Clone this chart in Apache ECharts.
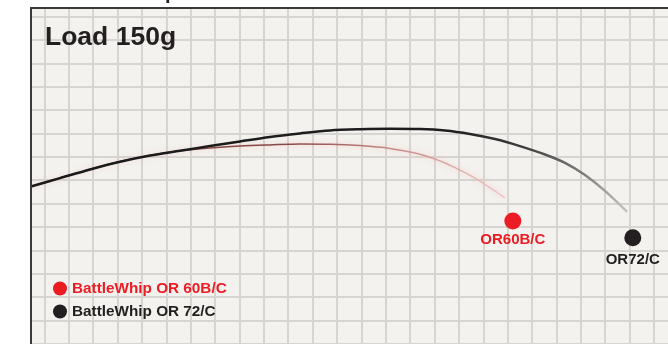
<!DOCTYPE html>
<html>
<head>
<meta charset="utf-8">
<script src="https://cdn.jsdelivr.net/npm/echarts@6/dist/echarts.min.js"></script>
<style>
  html, body { margin: 0; padding: 0; background: #ffffff; }
  #chart { width: 668px; height: 344px; }
</style>
</head>
<body>
<div id="chart"></div>
<script>
// Rod bending profile under a 150 g load (grid units: 10 per square)
const loadLabel = 'Load 150g';

const seriesNames = ['BattleWhip OR 60B/C', 'BattleWhip OR 72/C'];
const tipNames = ['OR60B/C', 'OR72/C'];

// BattleWhip OR 60B/C blank profile
const span60 = [4.5, 16.4, 28.7, 41.0, 53.3, 65.6, 77.9, 90.2, 102.5, 114.8, 127.1, 139.4, 151.7, 162.0, 170.2, 178.4, 186.6, 193.6, 198.9];
const height60 = [67.3, 70.9, 74.6, 78.0, 80.6, 82.6, 83.8, 84.6, 85.1, 85.5, 85.4, 84.8, 83.6, 81.6, 79.1, 75.4, 70.9, 66.2, 62.4];

// BattleWhip OR 72/C blank profile
const span72 = [4.5, 16.4, 28.7, 41.0, 53.3, 65.6, 77.9, 90.2, 102.5, 114.8, 127.1, 139.4, 151.7, 164.0, 174.3, 184.5, 194.8, 205.0, 215.3, 223.5, 231.7, 239.9, 249.0];
const height72 = [67.3, 70.9, 74.6, 77.9, 80.6, 82.6, 84.6, 86.6, 88.5, 90.0, 91.3, 91.8, 92.0, 91.9, 91.3, 89.8, 87.6, 84.6, 81.0, 77.4, 72.2, 65.4, 56.4];

// tip marker positions
const tip60 = [202.1, 52.5];
const tip72 = [251.3, 45.4];

// graph paper extent
const xMin = 0, xMax = 270, xStep = 10;
const yMin = 0, yMax = 150, yStep = 10;

const RED = '#ec1c24';
const BLACK = '#231f20';
const FONT = "'Liberation Sans', Arial, sans-serif";

const zip = (xs, ys) => xs.map((x, i) => [x, ys[i]]);

const chart = echarts.init(document.getElementById('chart'), null, { renderer: 'canvas' });

const axisCommon = {
  type: 'value',
  axisLine: { show: false },
  axisTick: { show: false },
  axisLabel: { show: false },
  splitLine: { show: true, lineStyle: { color: '#d7d5d1', width: 2 } }
};

chart.setOption({
  animation: false,
  backgroundColor: '#ffffff',
  title: {
    text: loadLabel,
    left: 45,
    top: 24,
    padding: 0,
    textStyle: { fontFamily: FONT, fontWeight: 'bold', fontSize: 26.5, color: '#231f20' }
  },
  legend: {
    orient: 'vertical',
    left: 53,
    top: 281,
    padding: 0,
    itemWidth: 14,
    itemHeight: 14,
    itemGap: 8,
    icon: 'circle',
    selectedMode: false,
    textStyle: { fontFamily: FONT, fontWeight: 'bold', fontSize: 15.3 },
    data: [
      { name: seriesNames[0], itemStyle: { color: RED }, textStyle: { color: RED } },
      { name: seriesNames[1], itemStyle: { color: BLACK }, textStyle: { color: BLACK } }
    ]
  },
  grid: {
    left: 20.02,
    top: -6.7,
    width: 24.384 * 27,
    height: 23.36 * 15,
    outerBoundsMode: 'none',
    containLabel: false,
    show: true,
    backgroundColor: '#f3f2ee',
    borderWidth: 0
  },
  xAxis: Object.assign({ min: xMin, max: xMax, interval: xStep }, axisCommon),
  yAxis: Object.assign({ min: yMin, max: yMax, interval: yStep }, axisCommon),
  series: [
    {
      name: seriesNames[0],
      type: 'line',
      data: zip(span60, height60),
      smooth: 0.3,
      showSymbol: false,
      z: 3,
      lineStyle: {
        width: 1.5,
        shadowColor: 'rgba(235, 150, 150, 0.5)',
        shadowBlur: 6,
        color: {
          type: 'linear', x: 0, y: 0, x2: 1, y2: 0,
          colorStops: [
            { offset: 0, color: '#7a3e3c' },
            { offset: 0.55, color: '#8c4a47' },
            { offset: 0.76, color: '#c98a88' },
            { offset: 1, color: '#f0c8c8' }
          ]
        }
      }
    },
    {
      name: seriesNames[1],
      type: 'line',
      data: zip(span72, height72),
      smooth: 0.3,
      showSymbol: false,
      z: 4,
      lineStyle: {
        width: 2.5,
        color: {
          type: 'linear', x: 0, y: 0, x2: 1, y2: 0,
          colorStops: [
            { offset: 0, color: '#1a1a1a' },
            { offset: 0.7, color: '#1e1e1e' },
            { offset: 0.82, color: '#3c3c3c' },
            { offset: 0.92, color: '#7a7a7a' },
            { offset: 1, color: '#c8c8c8' }
          ]
        }
      }
    },
    {
      name: tipNames[0],
      type: 'scatter',
      data: [tip60],
      symbolSize: 17,
      z: 5,
      itemStyle: { color: RED, opacity: 1 },
      label: {
        show: true,
        position: 'bottom',
        distance: 3,
        formatter: tipNames[0],
        fontFamily: FONT, fontWeight: 'bold', fontSize: 15, color: RED
      }
    },
    {
      name: tipNames[1],
      type: 'scatter',
      data: [tip72],
      symbolSize: 17,
      z: 5,
      itemStyle: { color: BLACK, opacity: 1 },
      label: {
        show: true,
        position: 'bottom',
        distance: 6,
        formatter: tipNames[1],
        fontFamily: FONT, fontWeight: 'bold', fontSize: 15, color: BLACK
      }
    }
  ],
  graphic: [
    // white margins outside the paper
    { type: 'rect', z: 100, silent: true, shape: { x: 0, y: 0, width: 31, height: 344 }, style: { fill: '#ffffff' } },
    { type: 'rect', z: 100, silent: true, shape: { x: 0, y: 0, width: 668, height: 8 }, style: { fill: '#ffffff' } },
    // descender of the heading line above the frame
    { type: 'text', z: 101, silent: true, x: 165, y: -17,
      style: { text: 'p', font: "bold 20px 'Liberation Sans', Arial, sans-serif", fill: '#231f20' } },
    // frame
    { type: 'line', z: 102, silent: true, shape: { x1: 31, y1: 7, x2: 31, y2: 344 }, style: { stroke: '#3a3a3a', lineWidth: 2 } },
    { type: 'line', z: 102, silent: true, shape: { x1: 30, y1: 8, x2: 668, y2: 8 }, style: { stroke: '#3a3a3a', lineWidth: 2 } }
  ]
});
</script>
</body>
</html>
